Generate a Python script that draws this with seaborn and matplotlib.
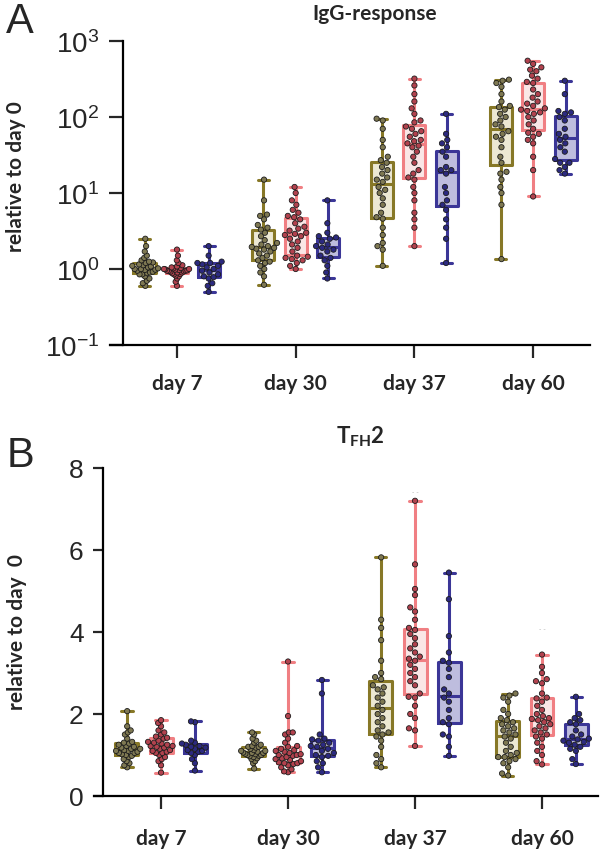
import matplotlib
matplotlib.use("Agg")
import matplotlib.pyplot as plt
import matplotlib.ticker as mticker
import numpy as np
import pandas as pd
import seaborn as sns

days = ["day 7", "day 30", "day 37", "day 60"]
groups = ["group 1", "group 2", "group 3"]

edge_colors = ["#877827", "#f07f83", "#3b3697"]
fill_colors = ["#f0ebcf", "#fde3e3", "#b9b7e3"]
dot_colors = ["#7e7852", "#b2424e", "#2c2a80"]

# --- IgG-response, fold change relative to day 0 ---
igg_d7_g1 = [0.6, 0.65, 0.7, 0.75, 0.8, 0.85, 0.85, 0.88, 0.9, 0.92, 0.95, 0.97, 0.98, 1.0, 1.0,
             1.02, 1.05, 1.08, 1.1, 1.12, 1.15, 1.2, 1.22, 1.25, 1.3, 1.4, 1.5, 1.7, 2.0, 2.5]
igg_d7_g2 = [0.6, 0.68, 0.75, 0.8, 0.82, 0.85, 0.86, 0.88, 0.9, 0.9, 0.92, 0.93, 0.94, 0.95, 0.95,
             0.96, 0.97, 0.98, 0.99, 1.0, 1.0, 1.02, 1.03, 1.05, 1.08, 1.12, 1.2, 1.3, 1.5, 1.8]
igg_d7_g3 = [0.5, 0.6, 0.65, 0.75, 0.78, 0.8, 0.85, 0.9, 0.95, 1.0, 1.05, 1.1, 1.15, 1.2, 1.2,
             1.25, 1.5, 2.0]
igg_d30_g1 = [0.62, 0.8, 0.9, 1.0, 1.1, 1.2, 1.25, 1.3, 1.4, 1.5, 1.6, 1.7, 1.8, 1.85, 1.9,
              1.95, 2.0, 2.1, 2.2, 2.4, 2.7, 3.0, 3.3, 3.5, 3.8, 4.5, 5.0, 5.2, 8.0, 15.0]
igg_d30_g2 = [1.0, 1.1, 1.2, 1.3, 1.35, 1.4, 1.45, 1.5, 1.7, 1.9, 2.1, 2.3, 2.5, 2.7, 2.8,
              2.9, 3.0, 3.2, 3.4, 3.6, 4.0, 4.5, 4.8, 5.0, 5.5, 6.0, 7.0, 8.0, 10.0, 12.0]
igg_d30_g3 = [0.75, 0.9, 1.1, 1.3, 1.4, 1.5, 1.7, 1.8, 1.9, 2.0, 2.1, 2.3, 2.5, 2.6, 2.7,
              3.0, 4.0, 8.0]
igg_d37_g1 = [1.1, 1.8, 2.0, 2.2, 2.8, 3.5, 4.6, 4.8, 5.5, 7.0, 8.5, 10, 11, 12, 14,
              15, 16, 18, 20, 22, 25, 27, 30, 40, 50, 70, 90, 95]
igg_d37_g2 = [2.0, 3.5, 4.5, 5.5, 8.0, 10, 12, 15, 16, 18, 20, 25, 30, 35, 40, 42,
              45, 48, 50, 55, 60, 65, 70, 75, 85, 90, 110, 130, 160, 200, 260, 320]
igg_d37_g3 = [1.2, 2.5, 3.5, 4.5, 6.0, 7.0, 8.0, 10, 12, 18, 20, 20, 22, 30, 35,
              40, 45, 50, 60, 110]
igg_d60_g1 = [1.35, 7.0, 10, 12, 15, 18, 19, 25, 30, 40, 50, 55, 60, 65, 75,
              80, 90, 100, 110, 125, 135, 140, 160, 200, 250, 280, 300, 310]
igg_d60_g2 = [9, 20, 30, 45, 50, 55, 60, 62, 70, 80, 90, 100, 110, 115, 120, 125,
              130, 140, 150, 160, 180, 200, 230, 280, 290, 320, 350, 400, 420, 450, 500, 550]
igg_d60_g3 = [18, 20, 22, 25, 25, 28, 35, 40, 45, 50, 55, 60, 70, 90, 100,
              110, 115, 120, 200, 300]

# --- TFH2, fold change relative to day 0 ---
tfh_d7_g1 = [0.7, 0.75, 0.8, 0.85, 0.9, 0.95, 0.98, 1.0, 1.02, 1.05, 1.05, 1.08, 1.1, 1.1, 1.12,
             1.15, 1.15, 1.18, 1.2, 1.22, 1.25, 1.28, 1.3, 1.32, 1.4, 1.5, 1.55, 1.6, 1.7, 2.07]
tfh_d7_g2 = [0.57, 0.75, 0.85, 0.9, 0.95, 1.0, 1.05, 1.05, 1.08, 1.1, 1.12, 1.15, 1.18, 1.2, 1.22,
             1.22, 1.25, 1.28, 1.3, 1.32, 1.35, 1.4, 1.42, 1.45, 1.5, 1.55, 1.6, 1.7, 1.78, 1.85]
tfh_d7_g3 = [0.62, 0.8, 0.9, 1.0, 1.05, 1.08, 1.1, 1.12, 1.15, 1.18, 1.2, 1.22, 1.25, 1.28, 1.3,
             1.35, 1.8, 1.82]
tfh_d30_g1 = [0.67, 0.8, 0.85, 0.9, 0.92, 0.95, 0.97, 0.98, 1.0, 1.0, 1.02, 1.03, 1.05, 1.05, 1.06,
              1.08, 1.1, 1.1, 1.12, 1.15, 1.18, 1.2, 1.2, 1.22, 1.25, 1.3, 1.35, 1.4, 1.5, 1.55]
tfh_d30_g2 = [0.58, 0.6, 0.65, 0.7, 0.75, 0.78, 0.8, 0.8, 0.82, 0.85, 0.88, 0.9, 0.92, 0.95, 0.98, 1.0,
              1.0, 1.02, 1.05, 1.08, 1.1, 1.12, 1.15, 1.2, 1.22, 1.3, 1.4, 1.5, 1.55, 1.55, 1.95, 3.28]
tfh_d30_g3 = [0.58, 0.7, 0.8, 0.85, 0.95, 0.98, 1.0, 1.05, 1.1, 1.15, 1.2, 1.22, 1.25, 1.3, 1.35,
              1.38, 1.4, 1.5, 2.5, 2.83]
tfh_d37_g1 = [0.7, 0.8, 0.9, 1.0, 1.2, 1.35, 1.45, 1.5, 1.55, 1.6, 1.7, 1.8, 1.9, 2.0, 2.1,
              2.2, 2.3, 2.4, 2.5, 2.6, 2.65, 2.7, 2.85, 2.9, 3.0, 3.3, 3.8, 4.1, 4.3, 5.82]
tfh_d37_g2 = [1.22, 1.6, 1.65, 1.9, 2.0, 2.2, 2.4, 2.42, 2.5, 2.7, 2.8, 2.9, 3.0, 3.1, 3.2, 3.3,
              3.35, 3.4, 3.5, 3.6, 3.7, 3.85, 3.95, 4.05, 4.1, 4.3, 4.5, 4.6, 4.9, 5.05, 5.65, 7.2]
tfh_d37_g3 = [0.98, 1.2, 1.45, 1.5, 1.75, 1.8, 1.9, 2.1, 2.3, 2.4, 2.5, 2.6, 2.9, 3.1, 3.25,
              3.3, 3.5, 3.9, 4.8, 5.45]
tfh_d60_g1 = [0.5, 0.55, 0.7, 0.8, 0.85, 0.9, 0.95, 0.95, 1.0, 1.05, 1.1, 1.2, 1.3, 1.4, 1.45,
              1.5, 1.55, 1.6, 1.65, 1.7, 1.75, 1.8, 1.85, 1.9, 2.0, 2.1, 2.3, 2.4, 2.45, 2.5]
tfh_d60_g2 = [0.77, 0.85, 1.0, 1.1, 1.2, 1.3, 1.4, 1.45, 1.5, 1.55, 1.6, 1.65, 1.7, 1.75, 1.8, 1.85,
              1.88, 1.9, 1.95, 2.0, 2.1, 2.2, 2.3, 2.38, 2.4, 2.5, 2.75, 2.8, 2.85, 3.0, 3.15, 3.45]
tfh_d60_g3 = [0.78, 0.9, 1.1, 1.15, 1.2, 1.25, 1.3, 1.32, 1.35, 1.38, 1.4, 1.45, 1.5, 1.6, 1.75,
              1.8, 1.85, 1.9, 2.0, 2.42]

igg_table = [[igg_d7_g1, igg_d7_g2, igg_d7_g3],
             [igg_d30_g1, igg_d30_g2, igg_d30_g3],
             [igg_d37_g1, igg_d37_g2, igg_d37_g3],
             [igg_d60_g1, igg_d60_g2, igg_d60_g3]]
tfh_table = [[tfh_d7_g1, tfh_d7_g2, tfh_d7_g3],
             [tfh_d30_g1, tfh_d30_g2, tfh_d30_g3],
             [tfh_d37_g1, tfh_d37_g2, tfh_d37_g3],
             [tfh_d60_g1, tfh_d60_g2, tfh_d60_g3]]


def long_frame(table):
    rows = []
    for day, per_group in zip(days, table):
        for grp, vals in zip(groups, per_group):
            rows += [(day, grp, v) for v in vals]
    return pd.DataFrame(rows, columns=["day", "group", "value"])


sns.set_theme(style="ticks")
plt.rcParams["font.family"] = ["Liberation Sans", "DejaVu Sans"]
plt.rcParams["mathtext.fontset"] = "custom"
plt.rcParams["mathtext.bf"] = "Lato:bold"
plt.rcParams["mathtext.rm"] = "Liberation Sans"


def draw_panel(ax, df, width, gap, dot_size):
    common = dict(data=df, x="day", y="value", hue="group", order=days,
                  hue_order=groups, dodge=True, legend=False, ax=ax)
    # light box fills first, then the coloured outlines on top
    sns.boxplot(**common, palette=fill_colors, width=width, gap=gap, whis=(0, 100),
                linewidth=0, showcaps=False, fliersize=0)
    sns.boxplot(**common, palette=edge_colors, fill=False, width=width, gap=gap,
                whis=(0, 100), linewidth=2.2, fliersize=0)
    sns.swarmplot(**common, palette=dot_colors, size=dot_size, edgecolor="#1c1c1c",
                  linewidth=0.6, warn_thresh=1)


def tighten_swarms(ax, px_per_cat, max_half_px):
    # the original dots overlap instead of fanning out, so squeeze wide swarms
    lim = max_half_px / px_per_cat
    centers = [i + j * 0.8 / 3 for i in range(len(days)) for j in (-1, 0, 1)]
    for coll in ax.collections:
        coll.__dict__.pop("draw", None)  # freeze seaborn's draw-time layout
        xy = np.asarray(coll.get_offsets())
        if len(xy) == 0:
            continue
        x = xy[:, 0]
        c = min(centers, key=lambda v: abs(v - x.mean()))
        spread = np.abs(x - c).max()
        if spread > lim:
            x = c + (x - c) * lim / spread
        coll.set_offsets(np.column_stack([x, xy[:, 1]]))


def style_axis(ax, spine_offset, tick_fs, ylen, xlen, xpad):
    ax.spines["top"].set_visible(False)
    ax.spines["right"].set_visible(False)
    for side in ["left", "bottom"]:
        ax.spines[side].set_linewidth(1.6)
        ax.spines[side].set_color("black")
    ax.spines["left"].set_position(("axes", spine_offset))
    ax.tick_params(axis="y", length=ylen, width=1.6, labelsize=tick_fs, pad=7)
    ax.tick_params(axis="x", length=xlen, width=1.6, pad=xpad)
    for lab in ax.get_xticklabels():
        lab.set_fontfamily("Lato")
        lab.set_fontweight("bold")
        lab.set_fontsize(15)
    ax.set_xlabel("")
    ax.set_ylabel("")


fig = plt.figure(figsize=(6, 8.53), dpi=100)
W, H = 600, 853

# panel A: IgG-response (log axis)
axA = fig.add_axes([110 / W, 1 - 346 / H, 480 / W, 304 / H])
axA.set_yscale("log")
draw_panel(axA, long_frame(igg_table), width=0.82, gap=0.32, dot_size=3.8)
axA.set_ylim(0.1, 1000)
axA.set_xlim(-0.564, 3.479)
axA.yaxis.set_major_locator(mticker.LogLocator(base=10, numticks=10))
axA.yaxis.set_minor_locator(mticker.NullLocator())
style_axis(axA, 13 / 480, 20, 10, 9, 11)

# panel B: TFH2 (linear axis)
axB = fig.add_axes([94 / W, 1 - 797 / H, 504 / W, 328 / H])
draw_panel(axB, long_frame(tfh_table), width=0.81, gap=0.33, dot_size=3.8)
axB.set_ylim(0, 8)
axB.set_xlim(-0.528, 3.441)
axB.set_yticks([0, 2, 4, 6, 8])
style_axis(axB, 9 / 504, 19, 7, 9, 14)

# faint marks above two of the TFH2 boxes
axB.text(2.0, 7.42, "- -", ha="center", va="center", fontsize=5, color="#bbbbbb")
axB.text(3.0, 4.08, "- -", ha="center", va="center", fontsize=5, color="#bbbbbb")

# titles, axis labels and panel letters
fig.text(375 / W, 1 - 14 / H, "IgG-response", ha="center", va="center",
         fontsize=15, fontweight="bold", family="Lato")
fig.text(360 / W, 1 - 437 / H, r"$\mathbf{T}_{\mathbf{FH}}\mathbf{2}$", ha="center",
         va="center", fontsize=16)
fig.text(16 / W, 1 - 177 / H, "relative to day 0", rotation=90, ha="center",
         va="center", fontsize=15, fontweight="bold", family="Lato")
fig.text(17 / W, 1 - 632 / H, "relative to day  0", rotation=90, ha="center",
         va="center", fontsize=15, fontweight="bold", family="Lato")
fig.text(20 / W, 1 - 22 / H, "A", ha="center", va="center", fontsize=30)
fig.text(20 / W, 1 - 456 / H, "B", ha="center", va="center", fontsize=30)

fig.canvas.draw()  # seaborn lays out the swarms here
tighten_swarms(axA, 118.7, 13)
tighten_swarms(axB, 127.0, 13)

fig.savefig("out.png", dpi=100)
